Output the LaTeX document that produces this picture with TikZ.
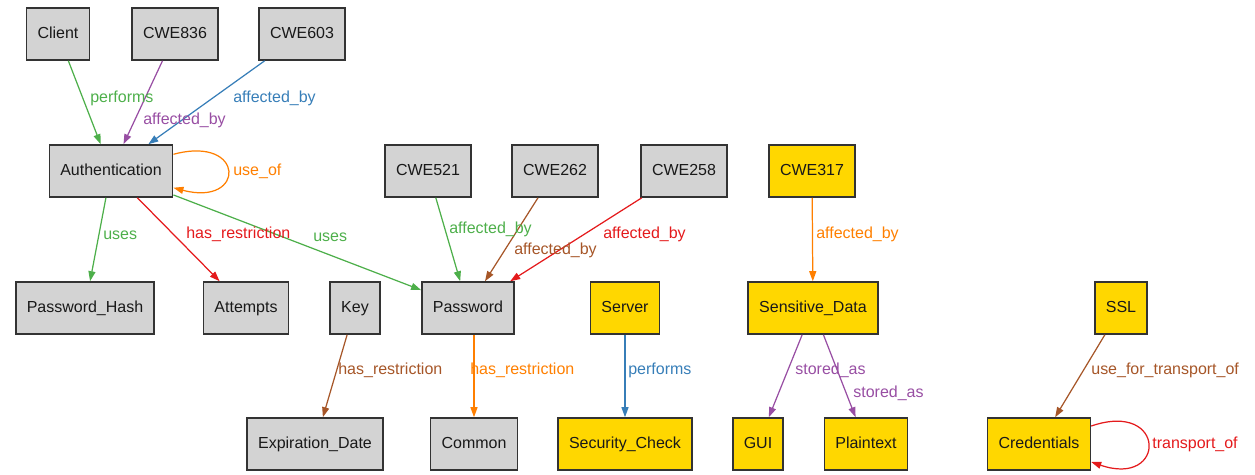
\documentclass[tikz,border=0pt]{standalone}
\usepackage{fontspec}
\setmainfont{Liberation Sans}
\usetikzlibrary{arrows.meta}
\definecolor{nodeGray}{HTML}{D3D3D3}
\definecolor{nodeGold}{HTML}{FFD700}
\definecolor{setRed}{HTML}{E41A1C}
\definecolor{setBlue}{HTML}{377EB8}
\definecolor{setGreen}{HTML}{4DAF4A}
\definecolor{setPurple}{HTML}{984EA3}
\definecolor{setOrange}{HTML}{FF7F00}
\definecolor{setBrown}{HTML}{A65628}
\tikzset{
	gbox/.style={
		draw=black!80,
		line width=0.9pt,
		fill=nodeGray,
		minimum height=1.04cm,
		inner xsep=0.22cm,
		text height=6.6pt,
		text depth=2pt,
		text=black!90,
		font=\fontsize{9.1}{11}\selectfont
	},
	ybox/.style={gbox, fill=nodeGold},
	earr/.style={-{Triangle[length=0.2cm, width=0.14cm]}, line width=0.7pt},
	elbl/.style={anchor=west, inner sep=0pt, font=\fontsize{9.1}{11}\selectfont}
}

\begin{document}
\begin{tikzpicture}[x=0.02cm, y=-0.02cm]
		\useasboundingbox (0,0) rectangle (1255,474);
		% top rows
		\node[gbox] (client) at (58,34) {Client};
		\node[gbox] (cwe836) at (175,34) {CWE836};
		\node[gbox] (cwe603) at (302,34) {CWE603};
		\node[gbox] (auth) at (111,171) {Authentication};
		\node[gbox] (cwe521) at (428,171) {CWE521};
		\node[gbox] (cwe262) at (555,171) {CWE262};
		\node[gbox] (cwe258) at (684,171) {CWE258};
		\node[ybox] (cwe317) at (812,171) {CWE317};
		% third row
		\node[gbox] (hash) at (85,308) {Password\_Hash};
		\node[gbox] (attempts) at (246,308) {Attempts};
		\node[gbox] (key) at (355,308) {Key};
		\node[gbox] (pwd) at (468,308) {Password};
		\node[ybox] (server) at (625,308) {Server};
		\node[ybox] (sdata) at (813,308) {Sensitive\_Data};
		\node[ybox] (ssl) at (1121,308) {SSL};
		% bottom row
		\node[gbox] (expdate) at (315,444) {Expiration\_Date};
		\node[gbox] (common) at (474,444) {Common};
		\node[ybox] (scheck) at (625,444) {Security\_Check};
		\node[ybox] (gui) at (758,444) {GUI};
		\node[ybox] (plain) at (866,444) {Plaintext};
		\node[ybox] (cred) at (1039,444) {Credentials};
		% edges
		\draw[earr, setGreen] (client) -- (auth);
		\draw[earr, setPurple] (cwe836) -- (auth);
		\draw[earr, setBlue] (cwe603) -- (auth);
		\draw[earr, setOrange] (auth) to[out=15, in=-15, distance=1.5cm] (auth);
		\draw[earr, setGreen] (auth) -- (hash);
		\draw[earr, setRed] (auth) -- (attempts);
		\draw[earr, setGreen] (auth) -- (pwd);
		\draw[earr, setGreen] (cwe521) -- (pwd);
		\draw[earr, setBrown] (cwe262) -- (pwd);
		\draw[earr, setRed] (cwe258) -- (pwd);
		\draw[earr, setOrange] (cwe317) -- (sdata);
		\draw[earr, setBrown] (key) -- (expdate);
		\draw[earr, setOrange] (pwd.south -| common) -- (common);
		\draw[earr, setBlue] (server) -- (scheck);
		\draw[earr, setPurple] (sdata) -- (gui);
		\draw[earr, setPurple] (sdata) -- (plain);
		\draw[earr, setBrown] (ssl) -- (cred);
		\draw[earr, setRed] (cred) to[out=19, in=-19, distance=1.6cm] (cred);
		% edge labels
		\node[elbl, text=setGreen] (lb1) at (90,98) {performs};
		\node[elbl, text=setPurple] (lb2) at (143,120) {affected\_by};
		\node[elbl, text=setBlue] (lb3) at (233,98) {affected\_by};
		\node[elbl, text=setOrange] (lb4) at (233,171) {use\_of};
		\node[elbl, text=setGreen] (lb5) at (103,235) {uses};
		\node[elbl, text=setRed] (lb6) at (186,234) {has\_restriction};
		\node[elbl, text=setGreen] (lb7) at (313,237) {uses};
		\node[elbl, text=setGreen] (lb8) at (449,229) {affected\_by};
		\node[elbl, text=setBrown] (lb9) at (514,250) {affected\_by};
		\node[elbl, text=setRed] (lb10) at (603,234) {affected\_by};
		\node[elbl, text=setOrange] (lb11) at (816,234) {affected\_by};
		\node[elbl, text=setBrown] (lb12) at (338,370) {has\_restriction};
		\node[elbl, text=setOrange] (lb13) at (470,370) {has\_restriction};
		\node[elbl, text=setBlue] (lb14) at (628,370) {performs};
		\node[elbl, text=setPurple] (lb15) at (795,370) {stored\_as};
		\node[elbl, text=setPurple] (lb16) at (853,393) {stored\_as};
		\node[elbl, text=setBrown] (lb17) at (1091,370) {use\_for\_transport\_of};
		\node[elbl, text=setRed] (lb18) at (1152,444) {transport\_of};
	\end{tikzpicture}
\end{document}
